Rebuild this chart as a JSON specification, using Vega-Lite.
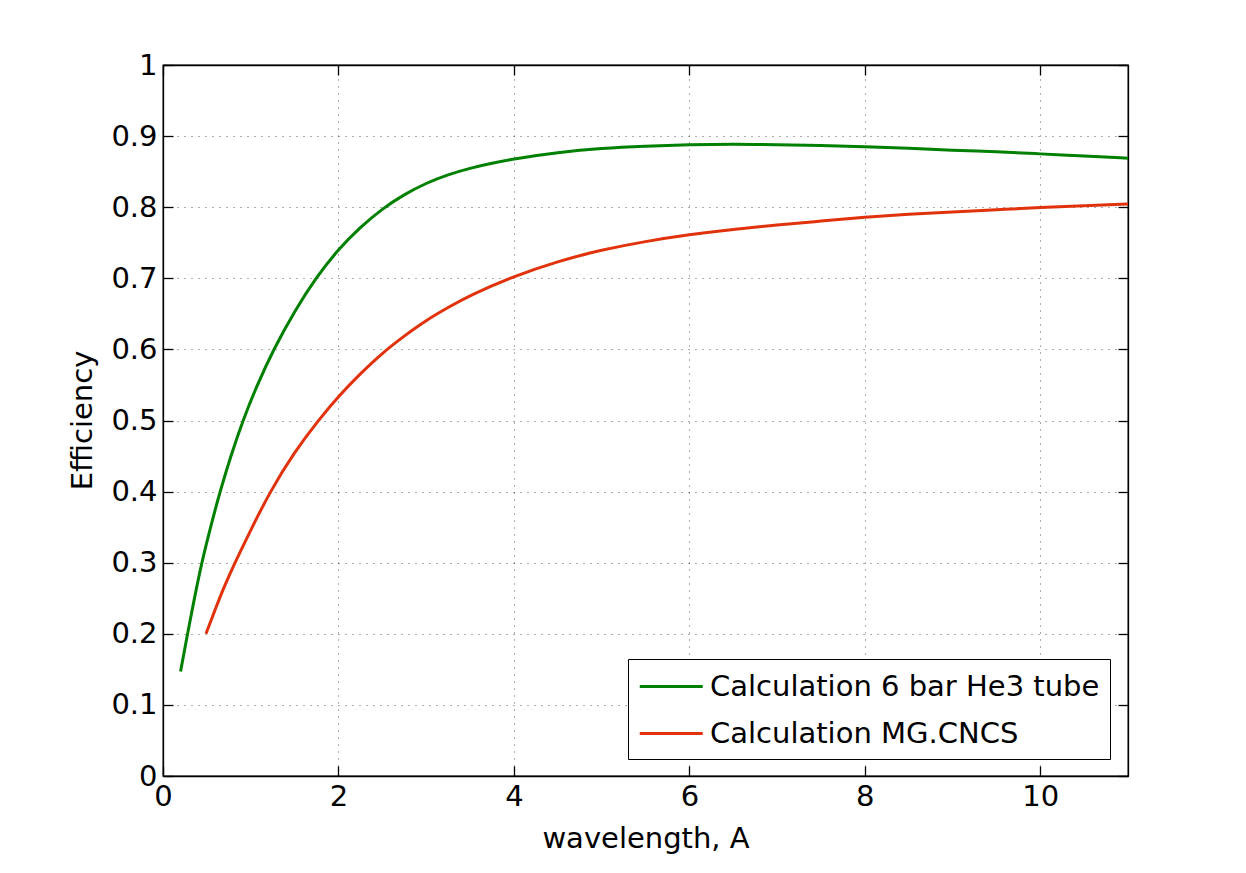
{
  "$schema": "https://vega.github.io/schema/vega-lite/v6.json",
  "width": 965,
  "height": 711,
  "autosize": "none",
  "padding": {"left": 163, "top": 65, "right": 118, "bottom": 97},
  "background": "white",
  "config": {
    "view": {"stroke": "black", "strokeWidth": 1.3},
    "font": "DejaVu Sans",
    "axis": {
      "labelFont": "DejaVu Sans",
      "titleFont": "DejaVu Sans",
      "labelFontSize": 29,
      "titleFontSize": 29,
      "titleFontWeight": "normal",
      "labelColor": "black",
      "titleColor": "black",
      "labelFlush": false,
      "domainColor": "black",
      "domainWidth": 1.3,
      "tickColor": "black",
      "tickWidth": 1.3,
      "tickSize": -10,
      "gridColor": "#000000",
      "gridOpacity": 0.65,
      "gridDash": [1, 6],
      "gridWidth": 1
    },
    "legend": {
      "labelFont": "DejaVu Sans",
      "labelFontSize": 29,
      "labelColor": "black"
    }
  },
  "data": {
    "values": [
      {"wavelength": 0.2, "efficiency": 0.147, "series": "Calculation 6 bar He3 tube"},
      {"wavelength": 0.28, "efficiency": 0.2, "series": "Calculation 6 bar He3 tube"},
      {"wavelength": 0.35, "efficiency": 0.245, "series": "Calculation 6 bar He3 tube"},
      {"wavelength": 0.44, "efficiency": 0.3, "series": "Calculation 6 bar He3 tube"},
      {"wavelength": 0.55, "efficiency": 0.354, "series": "Calculation 6 bar He3 tube"},
      {"wavelength": 0.65, "efficiency": 0.4, "series": "Calculation 6 bar He3 tube"},
      {"wavelength": 0.77, "efficiency": 0.449, "series": "Calculation 6 bar He3 tube"},
      {"wavelength": 0.91, "efficiency": 0.5, "series": "Calculation 6 bar He3 tube"},
      {"wavelength": 1.07, "efficiency": 0.549, "series": "Calculation 6 bar He3 tube"},
      {"wavelength": 1.26, "efficiency": 0.6, "series": "Calculation 6 bar He3 tube"},
      {"wavelength": 1.5, "efficiency": 0.654, "series": "Calculation 6 bar He3 tube"},
      {"wavelength": 1.75, "efficiency": 0.702, "series": "Calculation 6 bar He3 tube"},
      {"wavelength": 2.0, "efficiency": 0.741, "series": "Calculation 6 bar He3 tube"},
      {"wavelength": 2.25, "efficiency": 0.772, "series": "Calculation 6 bar He3 tube"},
      {"wavelength": 2.5, "efficiency": 0.798, "series": "Calculation 6 bar He3 tube"},
      {"wavelength": 2.75, "efficiency": 0.818, "series": "Calculation 6 bar He3 tube"},
      {"wavelength": 3.0, "efficiency": 0.834, "series": "Calculation 6 bar He3 tube"},
      {"wavelength": 3.25, "efficiency": 0.846, "series": "Calculation 6 bar He3 tube"},
      {"wavelength": 3.5, "efficiency": 0.855, "series": "Calculation 6 bar He3 tube"},
      {"wavelength": 3.75, "efficiency": 0.862, "series": "Calculation 6 bar He3 tube"},
      {"wavelength": 4.0, "efficiency": 0.868, "series": "Calculation 6 bar He3 tube"},
      {"wavelength": 4.5, "efficiency": 0.877, "series": "Calculation 6 bar He3 tube"},
      {"wavelength": 5.0, "efficiency": 0.883, "series": "Calculation 6 bar He3 tube"},
      {"wavelength": 5.5, "efficiency": 0.886, "series": "Calculation 6 bar He3 tube"},
      {"wavelength": 6.0, "efficiency": 0.888, "series": "Calculation 6 bar He3 tube"},
      {"wavelength": 6.5, "efficiency": 0.889, "series": "Calculation 6 bar He3 tube"},
      {"wavelength": 7.0, "efficiency": 0.888, "series": "Calculation 6 bar He3 tube"},
      {"wavelength": 7.5, "efficiency": 0.887, "series": "Calculation 6 bar He3 tube"},
      {"wavelength": 8.0, "efficiency": 0.885, "series": "Calculation 6 bar He3 tube"},
      {"wavelength": 8.5, "efficiency": 0.883, "series": "Calculation 6 bar He3 tube"},
      {"wavelength": 9.0, "efficiency": 0.880, "series": "Calculation 6 bar He3 tube"},
      {"wavelength": 9.5, "efficiency": 0.878, "series": "Calculation 6 bar He3 tube"},
      {"wavelength": 10.0, "efficiency": 0.875, "series": "Calculation 6 bar He3 tube"},
      {"wavelength": 10.5, "efficiency": 0.872, "series": "Calculation 6 bar He3 tube"},
      {"wavelength": 11.0, "efficiency": 0.869, "series": "Calculation 6 bar He3 tube"},
      {"wavelength": 0.49, "efficiency": 0.2, "series": "Calculation MG.CNCS"},
      {"wavelength": 0.6, "efficiency": 0.236, "series": "Calculation MG.CNCS"},
      {"wavelength": 0.7, "efficiency": 0.267, "series": "Calculation MG.CNCS"},
      {"wavelength": 0.82, "efficiency": 0.3, "series": "Calculation MG.CNCS"},
      {"wavelength": 1.0, "efficiency": 0.346, "series": "Calculation MG.CNCS"},
      {"wavelength": 1.22, "efficiency": 0.4, "series": "Calculation MG.CNCS"},
      {"wavelength": 1.5, "efficiency": 0.456, "series": "Calculation MG.CNCS"},
      {"wavelength": 1.77, "efficiency": 0.5, "series": "Calculation MG.CNCS"},
      {"wavelength": 2.0, "efficiency": 0.534, "series": "Calculation MG.CNCS"},
      {"wavelength": 2.25, "efficiency": 0.566, "series": "Calculation MG.CNCS"},
      {"wavelength": 2.5, "efficiency": 0.595, "series": "Calculation MG.CNCS"},
      {"wavelength": 2.75, "efficiency": 0.619, "series": "Calculation MG.CNCS"},
      {"wavelength": 3.0, "efficiency": 0.641, "series": "Calculation MG.CNCS"},
      {"wavelength": 3.25, "efficiency": 0.659, "series": "Calculation MG.CNCS"},
      {"wavelength": 3.5, "efficiency": 0.676, "series": "Calculation MG.CNCS"},
      {"wavelength": 4.0, "efficiency": 0.703, "series": "Calculation MG.CNCS"},
      {"wavelength": 4.5, "efficiency": 0.724, "series": "Calculation MG.CNCS"},
      {"wavelength": 5.0, "efficiency": 0.740, "series": "Calculation MG.CNCS"},
      {"wavelength": 5.5, "efficiency": 0.752, "series": "Calculation MG.CNCS"},
      {"wavelength": 6.0, "efficiency": 0.7615, "series": "Calculation MG.CNCS"},
      {"wavelength": 6.5, "efficiency": 0.769, "series": "Calculation MG.CNCS"},
      {"wavelength": 7.0, "efficiency": 0.775, "series": "Calculation MG.CNCS"},
      {"wavelength": 7.5, "efficiency": 0.7805, "series": "Calculation MG.CNCS"},
      {"wavelength": 8.0, "efficiency": 0.786, "series": "Calculation MG.CNCS"},
      {"wavelength": 8.5, "efficiency": 0.790, "series": "Calculation MG.CNCS"},
      {"wavelength": 9.0, "efficiency": 0.7935, "series": "Calculation MG.CNCS"},
      {"wavelength": 9.5, "efficiency": 0.7965, "series": "Calculation MG.CNCS"},
      {"wavelength": 10.0, "efficiency": 0.7995, "series": "Calculation MG.CNCS"},
      {"wavelength": 10.5, "efficiency": 0.802, "series": "Calculation MG.CNCS"},
      {"wavelength": 11.0, "efficiency": 0.8045, "series": "Calculation MG.CNCS"}
    ]
  },
  "layer": [
    {
      "mark": {"type": "line", "strokeWidth": 3, "interpolate": "basis", "clip": true},
      "encoding": {
        "x": {
          "field": "wavelength", "type": "quantitative",
          "scale": {"domain": [0, 11], "nice": false, "zero": false},
          "axis": {
            "title": "wavelength, A",
            "values": [0, 2, 4, 6, 8, 10],
            "format": "d",
            "labelPadding": 16,
            "labelBaseline": "top",
            "titleY": 71,
            "titleBaseline": "alphabetic",
            "grid": true
          }
        },
        "y": {
          "field": "efficiency", "type": "quantitative",
          "scale": {"domain": [0, 1], "nice": false},
          "axis": {
            "title": "Efficiency",
            "values": [0, 0.1, 0.2, 0.3, 0.4, 0.5, 0.6, 0.7, 0.8, 0.9, 1],
            "format": "~g",
            "labelPadding": 16,
            "titleX": -81,
            "titleY": 355,
            "titleAngle": -90,
            "titleAlign": "center",
            "titleBaseline": "middle",
            "grid": true
          }
        },
        "color": {
          "field": "series", "type": "nominal",
          "scale": {
            "domain": ["Calculation 6 bar He3 tube", "Calculation MG.CNCS"],
            "range": ["#008000", "#e1320c"]
          },
          "legend": {
            "title": null,
            "orient": "none",
            "legendX": 465,
            "legendY": 594,
            "symbolType": "M-1,0H3",
            "symbolSize": 992,
            "symbolStrokeWidth": 3,
            "labelOffset": 37,
            "labelLimit": 600,
            "padding": 10,
            "rowPadding": 14,
            "strokeColor": "black",
            "fillColor": "white"
          }
        }
      }
    },
    {
      "mark": {"type": "line", "opacity": 0},
      "encoding": {
        "x": {
          "field": "wavelength", "type": "quantitative",
          "scale": {"domain": [0, 11], "nice": false, "zero": false},
          "axis": {"orient": "top", "title": null, "labels": false, "grid": false, "values": [0, 2, 4, 6, 8, 10]}
        },
        "y": {
          "field": "efficiency", "type": "quantitative",
          "scale": {"domain": [0, 1], "nice": false},
          "axis": {"orient": "right", "title": null, "labels": false, "grid": false, "values": [0, 0.1, 0.2, 0.3, 0.4, 0.5, 0.6, 0.7, 0.8, 0.9, 1]}
        },
        "detail": {"field": "series"}
      }
    }
  ],
  "resolve": {"axis": {"x": "independent", "y": "independent"}}
}
